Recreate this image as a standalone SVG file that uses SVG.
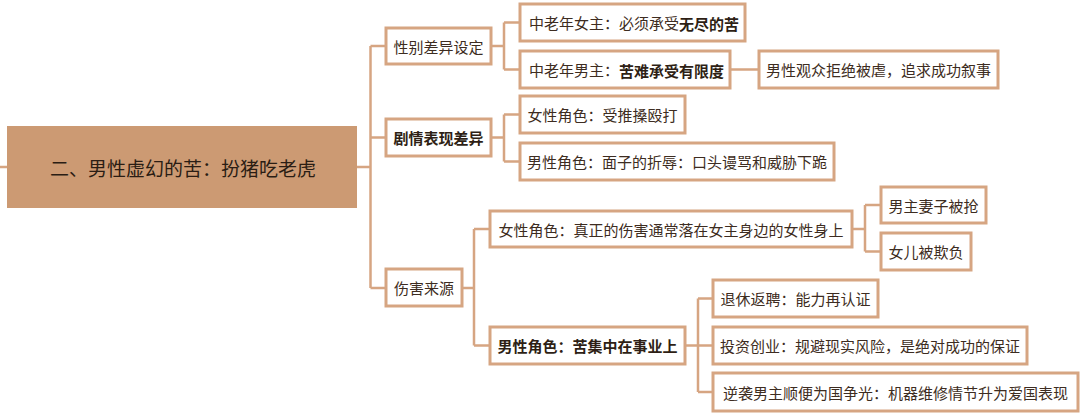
<svg xmlns="http://www.w3.org/2000/svg" width="1080" height="416" viewBox="0 0 1080 416">
<style>
.bx{fill:#ffffff;stroke:#D6A582;stroke-width:3}
.rt{fill:#CC9A73;stroke:none}
.ln{fill:none;stroke:#D6A582;stroke-width:2.5}
text{font-family:"Noto Sans CJK SC","Noto Sans CJK JP",sans-serif;fill:#3d2c21;font-size:15px;dominant-baseline:central}
.c{text-anchor:middle}
.b{font-weight:bold;fill:#2e1f15}
.root{font-size:19px;fill:#2a1d14}
</style>
<rect width="1080" height="416" fill="#ffffff"/>
<g id="connectors">
<path class="ln" d="M0 167H7"/>
<path class="ln" d="M357 167H370.5M370.5 46V288M370.5 46H386M370.5 137.5H386M370.5 288H386"/>
<path class="ln" d="M491 46H504M504 22.5V69.5M504 22.5H520M504 69.5H520"/>
<path class="ln" d="M730 69.5H759"/>
<path class="ln" d="M491 137.5H504M504 114.5V161.5M504 114.5H520M504 161.5H520"/>
<path class="ln" d="M462 288H474M474 229V345.5M474 229H490M474 345.5H490"/>
<path class="ln" d="M852 229H865M865 205V251.5M865 205H881M865 251.5H881"/>
<path class="ln" d="M685 345.5H698M698 298.5V392M698 298.5H713M698 345.5H713M698 392H713"/>
</g>
<g id="root">
<rect class="rt" x="7" y="126" width="350" height="82"/>
<text class="root c" x="183" y="167">二、男性虚幻的苦：扮猪吃老虎</text>
</g>
<g id="n1">
<rect class="bx" x="386" y="28" width="105" height="36"/>
<text class="c" x="438.5" y="46">性别差异设定</text>
</g>
<g id="n2">
<rect class="bx" x="386" y="119" width="105" height="37"/>
<text class="c b" x="438.5" y="137.5">剧情表现差异</text>
</g>
<g id="n3">
<rect class="bx" x="386" y="269" width="76" height="37"/>
<text class="c" x="424" y="287.5">伤害来源</text>
</g>
<g id="n1a">
<rect class="bx" x="520" y="4" width="225" height="37"/>
<text x="529" y="22.5">中老年女主：必须承受<tspan class="b">无尽的苦</tspan></text>
</g>
<g id="n1b">
<rect class="bx" x="520" y="51" width="210" height="37"/>
<text x="529" y="69.5">中老年男主：<tspan class="b">苦难承受有限度</tspan></text>
</g>
<g id="n1b1">
<rect class="bx" x="759" y="51" width="239" height="37"/>
<text class="c" x="878.5" y="69.5">男性观众拒绝被虐，追求成功叙事</text>
</g>
<g id="n2a">
<rect class="bx" x="520" y="96" width="165" height="37"/>
<text class="c" x="602.5" y="114.5">女性角色：受推搡殴打</text>
</g>
<g id="n2b">
<rect class="bx" x="520" y="143" width="314" height="37"/>
<text class="c" x="677" y="161.5">男性角色：面子的折辱：口头谩骂和威胁下跪</text>
</g>
<g id="n3a">
<rect class="bx" x="490" y="211" width="362" height="36"/>
<text class="c" x="671" y="229">女性角色：真正的伤害通常落在女主身边的女性身上</text>
</g>
<g id="n3a1">
<rect class="bx" x="881" y="187" width="105" height="36"/>
<text class="c" x="933.5" y="205">男主妻子被抢</text>
</g>
<g id="n3a2">
<rect class="bx" x="881" y="233" width="90" height="37"/>
<text class="c" x="926" y="251.5">女儿被欺负</text>
</g>
<g id="n3b">
<rect class="bx" x="490" y="327" width="195" height="37"/>
<text class="c b" x="587.5" y="345.5">男性角色：苦集中在事业上</text>
</g>
<g id="n3b1">
<rect class="bx" x="713" y="280" width="165" height="37"/>
<text class="c" x="795.5" y="298.5">退休返聘：能力再认证</text>
</g>
<g id="n3b2">
<rect class="bx" x="713" y="327" width="314" height="37"/>
<text class="c" x="870" y="345.5">投资创业：规避现实风险，是绝对成功的保证</text>
</g>
<g id="n3b3">
<rect class="bx" x="713" y="373" width="365" height="38"/>
<text class="c" x="895.5" y="392">逆袭男主顺便为国争光：机器维修情节升为爱国表现</text>
</g>
</svg>
